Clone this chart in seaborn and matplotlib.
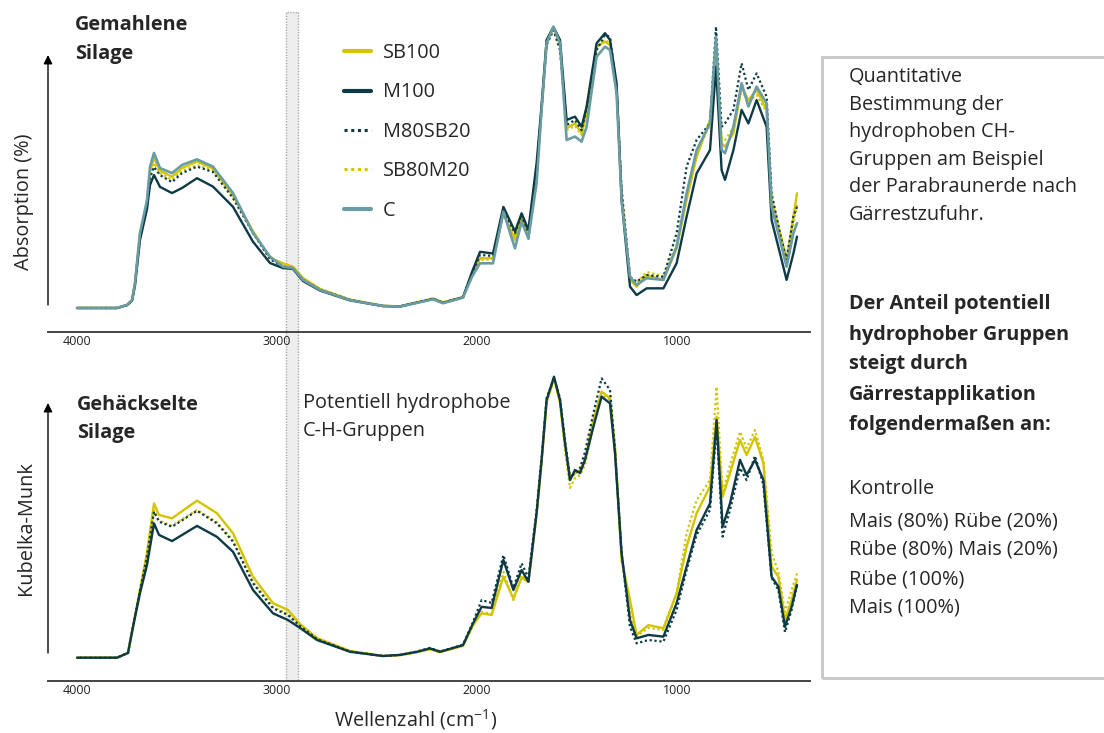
import numpy as np
import pandas as pd
import matplotlib
matplotlib.use("Agg")
import matplotlib.pyplot as plt
import seaborn as sns
from matplotlib.patches import Rectangle
from matplotlib.lines import Line2D

# ---------------- data ----------------
wn_top = [4000, 3800, 3750, 3725, 3710, 3685, 3650, 3635, 3615, 3585,
          3525, 3475, 3400, 3320, 3220, 3120, 3035, 2970, 2920, 2870,
          2785, 2635, 2470, 2385, 2220, 2170, 2070, 2025, 1985, 1920,
          1868, 1810, 1777, 1743, 1702, 1677, 1652, 1618, 1585, 1552,
          1510, 1477, 1452, 1402, 1360, 1335, 1302, 1277, 1235, 1202,
          1152, 1068, 1002, 952, 902, 835, 805, 777, 760, 718,
          677, 643, 602, 552, 527, 485, 452, 418, 400]

top_SB100 = [0, 0, 1.1, 2.8, 8.8, 26.7, 37.4, 48.4, 53.4, 48.9,
             46.7, 49.8, 52.1, 49.7, 40.2, 27.2, 17.8, 15.9, 14.7, 10.7,
             6.8, 3.0, 0.8, 0.6, 3.4, 2.0, 3.9, 12.1, 17.7, 17.7,
             33.7, 24.2, 31.9, 26.6, 47.3, 71.2, 94.7, 100.0, 93.6, 64.0,
             65.7, 62.2, 69.3, 93.0, 94.8, 93.6, 78.3, 40.2, 10.0, 7.6,
             11.7, 10.0, 21.2, 38.4, 53.8, 66.9, 93.0, 58.6, 57.4, 62.2,
             78.8, 74.0, 77.6, 70.5, 38.4, 26.6, 17.1, 32.5, 40.8]
top_M100 = [0, 0, 1.0, 2.6, 8.0, 24.2, 35.2, 43.8, 47.3, 43.1,
            40.9, 42.7, 46.2, 43.2, 36.0, 23.6, 16.0, 14.2, 13.9, 9.6,
            6.2, 2.7, 0.7, 0.5, 3.2, 1.8, 3.8, 12.8, 20.0, 19.4,
            36.0, 27.2, 33.7, 27.8, 51.6, 72.2, 95.4, 100.0, 95.4, 66.9,
            68.1, 64.5, 71.6, 94.2, 97.8, 95.4, 80.0, 38.4, 7.6, 4.6,
            7.0, 7.0, 15.9, 32.5, 47.9, 56.2, 85.9, 49.1, 45.6, 56.2,
            70.5, 65.7, 74.0, 64.5, 31.3, 19.4, 10.0, 19.4, 25.4]
top_M80SB20 = [0, 0, 1.0, 2.7, 8.5, 25.6, 36.7, 46.3, 50.2, 47.3,
               44.8, 48.0, 50.3, 48.4, 39.1, 26.7, 17.4, 14.7, 14.2, 10.0,
               6.5, 2.9, 0.7, 0.6, 3.3, 1.9, 3.9, 12.1, 18.9, 18.5,
               34.9, 26.6, 33.1, 24.7, 49.1, 70.5, 93.6, 98.9, 91.8, 65.1,
               66.9, 63.3, 71.2, 91.8, 97.2, 96.5, 78.0, 42.0, 11.1, 9.4,
               11.7, 11.1, 26.6, 50.3, 59.8, 65.7, 100.1, 64.5, 65.7, 70.5,
               87.1, 77.6, 83.5, 75.2, 40.8, 26.6, 17.1, 32.5, 36.0]
top_SB80M20 = [0, 0, 1.1, 2.8, 8.7, 26.3, 37.0, 47.3, 51.6, 48.0,
               45.6, 48.8, 50.9, 49.1, 39.9, 27.4, 18.1, 15.3, 14.6, 10.3,
               6.6, 2.9, 0.8, 0.6, 3.3, 1.9, 3.8, 11.7, 17.1, 17.4,
               33.1, 26.0, 31.3, 26.0, 46.3, 71.2, 93.6, 99.6, 93.6, 63.3,
               64.8, 61.6, 68.7, 92.5, 95.4, 94.3, 76.9, 42.0, 10.7, 8.9,
               12.8, 11.4, 22.4, 40.2, 55.5, 65.1, 91.8, 60.5, 59.8, 64.1,
               77.6, 73.3, 75.8, 69.8, 39.1, 27.0, 17.8, 29.5, 36.7]
top_C = [0, 0, 1.1, 2.8, 8.9, 26.7, 38.4, 50.2, 55.2, 49.8,
         48.0, 50.9, 52.9, 50.3, 40.9, 26.7, 18.3, 14.7, 14.2, 10.0,
         6.4, 2.8, 0.7, 0.5, 3.1, 1.7, 3.7, 11.1, 15.9, 15.9,
         34.3, 21.2, 30.7, 24.8, 44.4, 70.5, 94.3, 100.1, 94.3, 59.8,
         61.0, 59.2, 64.5, 89.4, 93.0, 91.8, 76.4, 38.4, 11.1, 8.2,
         10.6, 10.0, 21.8, 40.8, 56.2, 65.7, 96.5, 56.2, 55.1, 64.5,
         80.0, 71.7, 78.8, 72.8, 36.0, 24.2, 14.7, 26.6, 30.2]

wn_bottom = [4000, 3800, 3745, 3720, 3685, 3650, 3615, 3590, 3525, 3400,
             3300, 3220, 3120, 3020, 2945, 2885, 2800, 2635, 2470, 2385,
             2300, 2235, 2185, 2070, 2020, 1977, 1927, 1868, 1818, 1777,
             1743, 1702, 1677, 1652, 1615, 1585, 1560, 1535, 1510, 1485,
             1460, 1418, 1377, 1335, 1310, 1277, 1235, 1202, 1143, 1068,
             1002, 952, 902, 835, 802, 772, 735, 685, 652, 610,
             568, 527, 493, 460, 427, 400]

bot_SB100 = [0, 0, 1.7, 11.0, 24.1, 37.3, 54.9, 50.8, 49.6, 55.9,
             51.4, 44.3, 28.8, 19.4, 17.0, 12.0, 7.0, 2.4, 0.6, 0.9,
             2.0, 3.0, 2.0, 4.2, 11.6, 15.8, 15.2, 28.8, 21.1, 28.4,
             27.0, 51.4, 69.6, 91.0, 99.5, 91.0, 75.7, 64.4, 65.6, 66.8,
             70.4, 84.6, 94.7, 92.3, 75.1, 34.8, 20.5, 8.1, 11.6, 10.5,
             22.9, 39.5, 51.4, 60.9, 85.8, 57.3, 65.6, 77.5, 72.1, 78.6,
             69.2, 32.4, 28.8, 13.4, 20.5, 27.7]
bot_M100 = [0, 0, 1.7, 11.0, 23.0, 33.0, 47.8, 43.7, 41.5, 46.9,
            43.0, 37.7, 24.1, 15.8, 13.4, 10.6, 6.3, 2.1, 0.6, 1.0,
            2.1, 3.3, 2.1, 4.5, 12.2, 18.1, 17.7, 34.8, 24.1, 31.2,
            27.0, 51.4, 70.4, 91.7, 100.0, 91.7, 76.4, 63.2, 66.8, 65.7,
            70.4, 82.2, 92.9, 90.5, 72.7, 37.2, 13.4, 6.9, 8.1, 7.5,
            19.4, 32.4, 45.4, 54.9, 84.6, 46.6, 54.9, 70.4, 65.0, 70.4,
            63.2, 28.8, 25.3, 11.0, 18.1, 25.9]
bot_M80SB20 = [0, 0, 1.7, 11.0, 24.0, 36.0, 52.0, 48.4, 46.6, 52.3,
               47.8, 41.3, 26.5, 17.6, 15.2, 11.3, 6.6, 2.2, 0.6, 1.0,
               2.2, 3.5, 2.2, 4.6, 12.7, 20.5, 19.5, 36.5, 24.8, 33.6,
               28.4, 52.6, 71.1, 92.4, 99.5, 92.4, 77.5, 64.0, 65.7, 67.5,
               73.2, 87.0, 99.4, 95.3, 73.9, 37.2, 11.0, 5.1, 6.3, 5.7,
               17.0, 31.2, 43.7, 52.6, 82.2, 43.1, 52.6, 67.5, 63.2, 71.8,
               61.5, 28.4, 24.1, 9.1, 17.0, 25.9]
bot_SB80M20 = [0, 0, 1.7, 11.0, 24.1, 36.4, 52.4, 48.8, 47.0, 52.6,
               48.2, 41.8, 27.0, 18.0, 15.6, 11.6, 6.8, 2.3, 0.6, 0.9,
               2.0, 3.2, 2.0, 4.3, 11.3, 16.3, 15.6, 30.5, 20.5, 29.4,
               26.6, 50.7, 69.6, 91.0, 98.8, 90.6, 73.9, 60.4, 64.0, 65.0,
               68.6, 82.8, 93.5, 91.7, 73.9, 36.5, 16.3, 7.7, 10.6, 9.9,
               22.9, 44.3, 56.1, 63.2, 96.4, 58.5, 68.6, 80.4, 74.6, 81.0,
               70.4, 37.3, 30.5, 16.3, 24.1, 30.0]

series_names = ["SB100", "M100", "M80SB20", "SB80M20", "C"]
band_range = (2955, 2895)          # potentially hydrophobic C-H groups
major_ticks = [1000, 2000, 3000, 4000]
minor_ticks = list(range(400, 4001, 200))

info_lines_1 = ["Quantitative", "Bestimmung der", "hydrophoben CH-",
                "Gruppen am Beispiel", "der Parabraunerde nach", "Gärrestzufuhr."]
info_lines_2 = ["Der Anteil potentiell", "hydrophober Gruppen", "steigt durch",
                "Gärrestapplikation", "folgendermaßen an:"]
info_lines_3 = ["Kontrolle", "Mais (80%) Rübe (20%)", "Rübe (80%) Mais (20%)",
                "Rübe (100%)", "Mais (100%)"]

# ---------------- styling ----------------
sns.set_theme(style="white")
plt.rcParams['font.family'] = ['Open Sans', 'DejaVu Sans']
plt.rcParams['mathtext.fontset'] = 'custom'
plt.rcParams['mathtext.rm'] = 'Open Sans'
plt.rcParams['mathtext.it'] = 'Open Sans:italic'

YELLOW = "#d3c300"
DARK = "#0d3a45"
CTEAL = "#6a9ca6"
styles = {
    "SB100":   dict(color=YELLOW, ls="-", lw=1.7),
    "M100":    dict(color=DARK, ls="-", lw=1.7),
    "M80SB20": dict(color=DARK, ls=(0, (1, 1.2)), lw=1.6),
    "SB80M20": dict(color=YELLOW, ls=(0, (1, 1.2)), lw=1.6),
    "C":       dict(color=CTEAL, ls="-", lw=1.9),
}

W, H = 1104, 733
fig = plt.figure(figsize=(W / 100, H / 100), dpi=100)

def fx(x):
    return x / W

def fy(y):
    return 1 - y / H

XL = (4000 + (77 - 48) * 5, 4000 - (810 - 77) * 5)

df_top = pd.DataFrame({"wn": wn_top, "SB100": top_SB100, "M100": top_M100,
                       "M80SB20": top_M80SB20, "SB80M20": top_SB80M20, "C": top_C})
df_bot = pd.DataFrame({"wn": wn_bottom, "SB100": bot_SB100, "M100": bot_M100,
                       "M80SB20": bot_M80SB20, "SB80M20": bot_SB80M20})

# band axes spanning both panels
axb = fig.add_axes([fx(48), fy(682), (810 - 48) / W, (682 - 12) / H])
axb.set_xlim(*XL)
axb.axis("off")
axb.axvspan(band_range[0], band_range[1], facecolor="#eeeeee", edgecolor="#a8a8a8",
            ls=(0, (1, 1)), lw=1.0, zorder=0)

def style_axis(ax, ylim):
    ax.set_facecolor("none")
    ax.set_xlim(*XL)
    ax.set_ylim(*ylim)
    for s in ["top", "right", "left"]:
        ax.spines[s].set_visible(False)
    ax.spines["bottom"].set_color("#444444")
    ax.spines["bottom"].set_linewidth(1.4)
    ax.set_yticks([])
    ax.set_xticks(major_ticks)
    ax.set_xticks(minor_ticks, minor=True)
    ax.set_xticklabels([str(t) for t in major_ticks])
    ax.tick_params(axis="x", which="both", direction="in", length=4, width=1.1,
                   color="#222222", labelsize=9, labelcolor="#222222", pad=2)
    ax.set_xlabel("")
    ax.set_ylabel("")

# top panel
ax1 = fig.add_axes([fx(48), fy(332), (810 - 48) / W, (332 - 10) / H])
for name in ["SB100", "SB80M20", "M100", "M80SB20", "C"]:
    st = styles[name]
    sns.lineplot(data=df_top, x="wn", y=name, ax=ax1, color=st["color"],
                 linestyle=st["ls"], linewidth=st["lw"], legend=False)
style_axis(ax1, ((308 - 332) / 2.81, (308 - 10) / 2.81))

# bottom panel
ax2 = fig.add_axes([fx(48), fy(681), (810 - 48) / W, (681 - 360) / H])
for name in ["SB100", "SB80M20", "M100", "M80SB20"]:
    st = styles[name]
    sns.lineplot(data=df_bot, x="wn", y=name, ax=ax2, color=st["color"],
                 linestyle=st["ls"], linewidth=st["lw"], legend=False)
style_axis(ax2, ((657.7 - 681) / 2.81, (657.7 - 360) / 2.81))

# y arrows
for ax, top_px, bot_px, a0, a1 in [(ax1, 10, 332, 305, 55), (ax2, 360, 681, 653, 403)]:
    hh = bot_px - top_px
    ax.annotate("", xy=(0, (bot_px - a1) / hh), xytext=(0, (bot_px - a0) / hh),
                xycoords="axes fraction", textcoords="axes fraction",
                arrowprops=dict(arrowstyle="-|>", color="black", lw=1.0,
                                mutation_scale=13, shrinkA=0, shrinkB=0),
                annotation_clip=False)

BIG = 14.3

# legend
handles = [Line2D([], [], color=styles[n]["color"], ls=styles[n]["ls"],
                  lw=3 if styles[n]["ls"] == "-" else 2.2) for n in series_names]
fig.legend(handles, series_names, loc="upper left",
           bbox_to_anchor=(fx(344), fy(43)), frameon=False, fontsize=BIG,
           handlelength=1.35, handletextpad=0.6, labelspacing=0.98,
           borderaxespad=0, borderpad=0)

# titles
fig.text(fx(75), fy(30), "Gemahlene", fontsize=BIG, fontweight="bold", va="baseline")
fig.text(fx(75), fy(59), "Silage", fontsize=BIG, fontweight="bold", va="baseline")
fig.text(fx(77), fy(410), "Gehäckselte", fontsize=BIG, fontweight="bold", va="baseline")
fig.text(fx(77), fy(438), "Silage", fontsize=BIG, fontweight="bold", va="baseline")
fig.text(fx(303), fy(408), "Potentiell hydrophobe", fontsize=BIG, va="baseline")
fig.text(fx(303), fy(436), "C-H-Gruppen", fontsize=BIG, va="baseline")

# axis labels
fig.text(fx(24), fy(202), "Absorption (%)", fontsize=BIG, rotation=90,
         ha="center", va="center")
fig.text(fx(26), fy(528), "Kubelka-Munk", fontsize=BIG, rotation=90,
         ha="center", va="center")
fig.text(fx(416), fy(726), "Wellenzahl (cm$^{-1}$)", fontsize=BIG,
         ha="center", va="baseline")

# info box
fig.add_artist(Rectangle((fx(822), fy(678)), (1120 - 822) / W, (678 - 57) / H,
                         transform=fig.transFigure, fill=False,
                         edgecolor="#c9c9c9", lw=2.2))
ys1 = [82, 110, 137, 165, 192, 220]
ys2 = [309, 340, 369, 400, 430]
ys3 = [494, 526, 555, 584, 612]
for t, y in zip(info_lines_1, ys1):
    fig.text(fx(849), fy(y), t, fontsize=BIG, va="baseline")
for t, y in zip(info_lines_2, ys2):
    fig.text(fx(849), fy(y), t, fontsize=BIG, fontweight="bold", va="baseline")
for t, y in zip(info_lines_3, ys3):
    fig.text(fx(849), fy(y), t, fontsize=BIG, va="baseline")

fig.savefig("out.png", dpi=100)
